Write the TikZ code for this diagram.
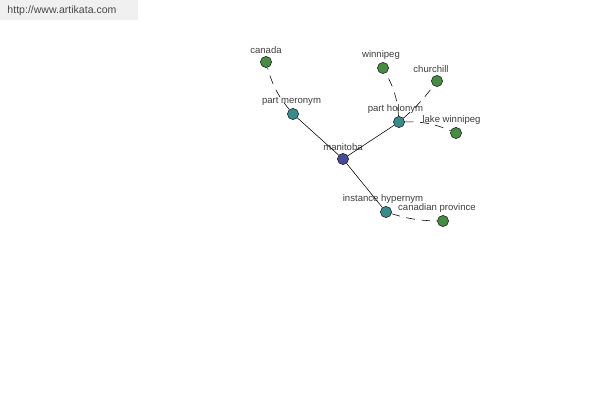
\documentclass[tikz,border=0pt]{standalone}
\usepackage{fontspec}
\setmainfont{Liberation Sans}
\usetikzlibrary{positioning}
\definecolor{leaf}{RGB}{72,140,68}
\definecolor{rel}{RGB}{58,140,140}
\definecolor{root}{RGB}{70,75,150}
\definecolor{ink}{RGB}{40,40,40}
\tikzset{
  word/.style={circle,draw=ink!80!black,fill=#1,inner sep=0pt,minimum size=2.8mm},
  word/.default=leaf,
  tag/.style={font=\fontsize{6.8}{7}\selectfont,text=ink!90,inner sep=0pt},
  link/.style={draw=black,thin},
  dlink/.style={draw=black,thin,dash pattern=on 2.2mm off 1.6mm},
}
\begin{document}
\begin{tikzpicture}[x=0.025cm,y=-0.025cm]
  \useasboundingbox (0,0) rectangle (600,400);
  \fill[gray!12] (0,0) rectangle (138,20);
  \node[font=\fontsize{7.5}{8}\selectfont,text=ink!85] (site) at (62,11) {http://www.artikata.com};
  % nodes
  \node[word=root] (manitoba) at (343,159) {};
  \node[word=rel] (mero) at (293,114) {};
  \node[word=rel] (holo) at (399,122) {};
  \node[word=rel] (hyper) at (386,212) {};
  \node[word] (canada) at (266,62) {};
  \node[word] (winnipeg) at (383,68) {};
  \node[word] (churchill) at (437,81) {};
  \node[word] (lake) at (456,133) {};
  \node[word] (prov) at (443,221) {};
  % labels
  \foreach \n/\t/\dx in {manitoba/manitoba/0,mero/part meronym/-1.5,holo/part holonym/-3.5,hyper/instance hypernym/-3,canada/canada/0,winnipeg/winnipeg/-2,churchill/churchill/-6,lake/lake winnipeg/-4.5,prov/canadian province/-6}
    \node[tag,above=0.5mm of \n,xshift=\dx*0.025cm] (\n-t) {\t};
  % edges
  \foreach \a/\b in {manitoba/mero,manitoba/holo,manitoba/hyper}
    \draw[link] (\a) -- (\b);
  \draw[dlink] (mero) to[bend left=12] (canada);
  \draw[dlink] (holo) to[bend right=12] (winnipeg);
  \draw[dlink] (holo) to[bend right=6] (churchill);
  \draw[dlink] (holo) to[bend left=12] (lake);
  \draw[dlink] (hyper) to[bend right=8] (prov);
\end{tikzpicture}
\end{document}
